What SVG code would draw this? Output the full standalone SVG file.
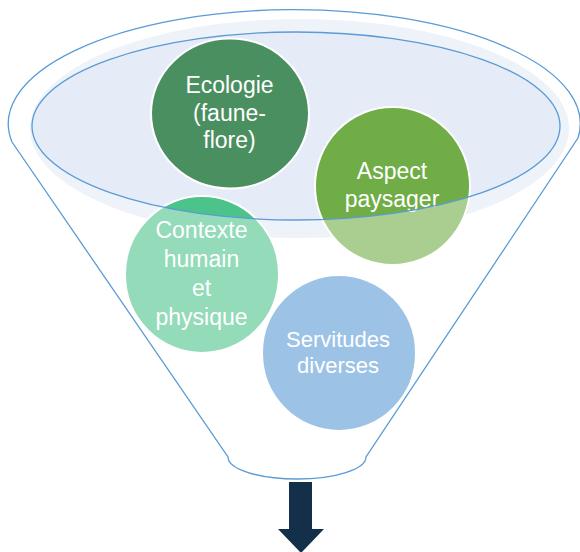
<svg xmlns="http://www.w3.org/2000/svg" width="580" height="552" viewBox="0 0 580 552">
  <style>
    .node ellipse { stroke: #FFFFFF; stroke-width: 2; }
    .label { font-family: "Liberation Sans", Arial, sans-serif; font-size: 23px; fill: #FFFFFF; text-anchor: middle; }
    .funnel-line { fill: none; stroke: #5B9BD5; stroke-width: 1.3; }
  </style>
  <rect width="580" height="552" fill="#FFFFFF"/>
  <g id="funnel-back">
    <ellipse cx="299.5" cy="128.5" rx="269.5" ry="109.5" fill="#E3E9F5"/>
    <ellipse cx="296" cy="126" rx="264" ry="94" fill="#E6ECF7"/>
  </g>
  <g id="node-ecologie" class="node">
    <ellipse cx="230" cy="113.5" rx="79" ry="75" fill="#4A8F5F"/>
    <text class="label"><tspan x="229.5" y="93">Ecologie</tspan><tspan x="229.5" y="121">(faune-</tspan><tspan x="229.5" y="148">flore)</tspan></text>
  </g>
  <g id="node-aspect" class="node">
    <ellipse cx="392.5" cy="186" rx="77.5" ry="79" fill="#70AD47"/>
    <text class="label"><tspan x="392" y="179">Aspect</tspan><tspan x="392" y="207">paysager</tspan></text>
  </g>
  <g id="node-contexte" class="node">
    <ellipse cx="202" cy="274.5" rx="77" ry="78.5" fill="#4CC38A"/>
    <text class="label"><tspan x="201.5" y="238">Contexte</tspan><tspan x="201.5" y="267">humain</tspan><tspan x="201.5" y="296">et</tspan><tspan x="201.5" y="325">physique</tspan></text>
  </g>
  <g id="node-servitudes" class="node">
    <ellipse cx="339" cy="353" rx="77" ry="78" fill="#5B9BD5"/>
    <text class="label" style="font-size:22px"><tspan x="338" y="347">Servitudes</tspan><tspan x="338" y="373">diverses</tspan></text>
  </g>
  <g id="funnel-front">
    <path fill="#FFFFFF" fill-opacity="0.4" fill-rule="evenodd" d="M 12 142 A 286 114 0 1 1 578 138 L 366 457 A 69 22 0 0 1 228 457 Z M 32 126 A 264 94 0 1 0 560 126 A 264 94 0 1 0 32 126 Z"/>
    <path class="funnel-line" d="M 12 142 A 286 114 0 1 1 578 138 L 366 457 A 69 22 0 0 1 228 457 Z"/>
    <ellipse class="funnel-line" cx="296" cy="126" rx="264" ry="94"/>
  </g>
  <g id="connectors">
    <polygon points="289,482 312,482 312,529 324,529 301,553 278,529 289,529" fill="#142F4A"/>
  </g>
</svg>
